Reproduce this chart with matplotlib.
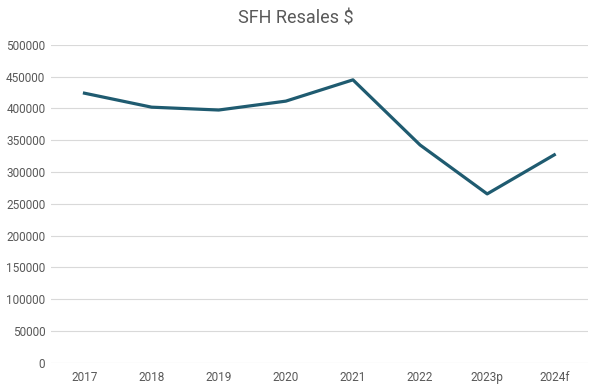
import matplotlib.pyplot as plt

years = ["2017", "2018", "2019", "2020", "2021", "2022", "2023p", "2024f"]
resales = [424000, 402000, 397500, 411500, 445000, 342500, 265500, 327000]
yticks = [0, 50000, 100000, 150000, 200000, 250000, 300000, 350000, 400000, 450000, 500000]

plt.rcParams['font.family'] = ['Roboto', 'DejaVu Sans']

fig = plt.figure(figsize=(5.92, 3.87), dpi=100)
ax = fig.add_axes([0.086, 0.063, 0.907, 0.821])

x = range(len(years))
ax.plot(x, resales, color='#1F5B70', linewidth=2.3, solid_joinstyle='round')

ax.set_xlim(-0.5, len(years) - 0.5)
ax.set_ylim(0, 500000)
ax.set_xticks(list(x))
ax.set_xticklabels(years)
ax.set_yticks(yticks)
ax.set_yticklabels([str(v) for v in yticks])
ax.tick_params(length=0, labelsize=8.5, labelcolor='#595959', pad=6)
ax.tick_params(axis='y', pad=4)

ax.grid(axis='y', color='#D9D9D9', linewidth=0.8)
ax.set_axisbelow(True)
for s in ax.spines.values():
    s.set_visible(False)

fig.text(0.5, 0.953, "SFH Resales $", ha='center', va='center', fontsize=13, color='#595959')

fig.savefig("out.png", dpi=100)
